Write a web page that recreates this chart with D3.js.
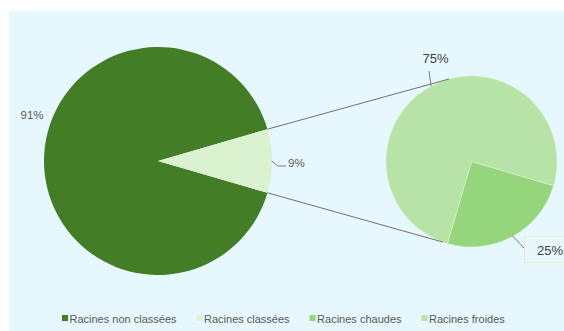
<!DOCTYPE html>
<html><head><meta charset="utf-8">
<script src="https://cdn.jsdelivr.net/npm/d3@7"></script>
<style>html,body{margin:0;padding:0;background:#fff;}svg{display:block;}</style>
</head><body>
<svg id="c" width="564" height="331"></svg>
<script>
// Data
const mainCategories = ["Racines non classées", "Racines classées"];
const mainValues = [91, 9];
const subCategories = ["Racines chaudes", "Racines froides"];
const subValues = [25, 75];
const mainLabels = ["91%", "9%"];
const subLabels = ["25%", "75%"];
const legendLabels = ["Racines non classées", "Racines classées", "Racines chaudes", "Racines froides"];

const mainColors = ["#437d26", "#dbf2d1"];
const subColors = ["#95d67d", "#b7e3a6"];
const legendColors = ["#437d26", "#dbf2d1", "#95d67d", "#b7e3a6"];

const svg = d3.select("#c");
svg.append("rect").attr("x", 9).attr("y", 11).attr("width", 555).attr("height", 320).attr("fill", "#e6f8fd");

// Main pie
const mc = [158, 161], mr = 114;
const fracSplit = mainValues[1] / d3.sum(mainValues);
const mStart = Math.PI / 2 + fracSplit * Math.PI;
const mainPie = d3.pie().sort(null).value(d => d).startAngle(mStart).endAngle(mStart + 2 * Math.PI);
const mainArcs = mainPie(mainValues);
const arcM = d3.arc().innerRadius(0).outerRadius(mr);
const gM = svg.append("g").attr("transform", `translate(${mc})`);
gM.selectAll("path").data(mainArcs).join("path").attr("d", arcM).attr("fill", (d, i) => mainColors[i]);

// Sub pie
const sc = [471.5, 161.5], sr = 85.5;
const sStart = (106.4) * Math.PI / 180;
const subPie = d3.pie().sort(null).value(d => d).startAngle(sStart).endAngle(sStart + 2 * Math.PI);
const subArcs = subPie(subValues);
const arcS = d3.arc().innerRadius(0).outerRadius(sr);
const gS = svg.append("g").attr("transform", `translate(${sc})`);
gS.selectAll("path").data(subArcs).join("path").attr("d", arcS).attr("fill", (d, i) => subColors[i])
  .attr("stroke", "#d8f3cc").attr("stroke-width", 0.6);

// connector lines
const pt = (c, r, a) => [c[0] + r * Math.sin(a), c[1] - r * Math.cos(a)];
const split = mainArcs[1];
const lineCol = "#6f6f78";
const conn = [[pt(mc, mr, split.startAngle), pt(sc, sr, -15.2 * Math.PI / 180)],
              [pt(mc, mr, split.endAngle), pt(sc, sr, 199.5 * Math.PI / 180)]];
svg.selectAll("line.conn").data(conn).join("line").attr("class", "conn")
  .attr("x1", d => d[0][0]).attr("y1", d => d[0][1]).attr("x2", d => d[1][0]).attr("y2", d => d[1][1])
  .attr("stroke", lineCol).attr("stroke-width", 1);

// leader lines
const leaders = [
  [[271.7, 161], [277.7, 166], [286, 166]],
  [[431, 86], [429, 71]],
  [[512.3, 235.7], [524.5, 248.5]]
];
svg.selectAll("path.lead").data(leaders).join("path").attr("class", "lead")
  .attr("d", d => d3.line()(d)).attr("fill", "none").attr("stroke", "#7a7a82").attr("stroke-width", 1);

// 25% label box
svg.append("rect").attr("x", 524.5).attr("y", 236.5).attr("width", 45).attr("height", 26)
  .attr("fill", "#e6f8fd").attr("stroke", "#e8eccf").attr("stroke-width", 1);

const font = "Liberation Sans, Arial, sans-serif";
// main labels
svg.append("text").attr("x", 32).attr("y", 115).text(mainLabels[0])
  .attr("font-family", font).attr("font-size", 11.5).attr("fill", "#595959").attr("text-anchor", "middle").attr("dominant-baseline", "central");
svg.append("text").attr("x", 288).attr("y", 163).text(mainLabels[1])
  .attr("font-family", font).attr("font-size", 11.5).attr("fill", "#595959").attr("dominant-baseline", "central");
// sub labels
svg.append("text").attr("x", 537).attr("y", 250).text(subLabels[0])
  .attr("font-family", font).attr("font-size", 13).attr("fill", "#404040").attr("dominant-baseline", "central");
svg.append("text").attr("x", 435.5).attr("y", 58.5).text(subLabels[1])
  .attr("font-family", font).attr("font-size", 13).attr("fill", "#404040").attr("text-anchor", "middle").attr("dominant-baseline", "central");

// legend
const lg = svg.append("g");
let x = 62;
legendLabels.forEach((lab, i) => {
  lg.append("rect").attr("x", x).attr("y", 315).attr("width", 6).attr("height", 6).attr("fill", legendColors[i]);
  const t = lg.append("text").attr("x", x + 7.5).attr("y", 318.5).text(lab)
    .attr("font-family", font).attr("font-size", 11).attr("fill", "#595959").attr("dominant-baseline", "central");
  x += 7.5 + t.node().getComputedTextLength() + 20;
});
</script>
</body></html>
